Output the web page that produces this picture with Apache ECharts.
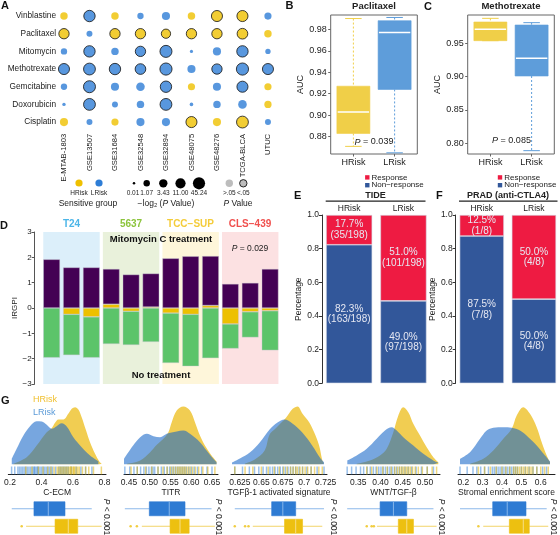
<!DOCTYPE html>
<html><head><meta charset="utf-8">
<script src="https://cdn.jsdelivr.net/npm/echarts@6/dist/echarts.min.js"></script>
<style>html,body{margin:0;padding:0;background:#fff}#c{width:560px;height:535px}</style>
</head><body><div id="c"></div>
<script>
// ================= DATA =================
// Panel A
const drugs = ['Vinblastine','Paclitaxel','Mitomycin','Methotrexate','Gemcitabine','Doxorubicin','Cisplatin'];
const cohorts = ['E-MTAB-1803','GSE13507','GSE31684','GSE32548','GSE32894','GSE48075','GSE48276','TCGA-BLCA','UTUC'];
const sensGroup = ['HLHLLHHHL','HLHHHHHHH','LLLLLLLLL','LLLLLLLLL','LLLLLHLLH','LLLLLLLLH','HLHLLHHHL'];
const negLog2P = [
  [2.0,25,2.0,1.0,3.0,2.0,20,20,1.7],
  [12,0.8,12,12,6,12,12,15,2.0],
  [1.0,25,2.0,12,40,0.05,3.0,25,0.5],
  [20,35,25,15,45,3.0,12,45,20],
  [1.0,40,3.0,4.0,25,1.7,3.0,20,1.7],
  [0.08,35,0.8,2.0,35,0.1,2.0,4.0,1.8],
  [3.0,0.8,1.7,3.0,3.0,20,3.0,35,0.8]
];
const sizeLegendVals = [0.01,1.07,3.43,11.00,45.24];
// Panel B / C  [min, q1, median, q3, max]
const paclitaxelH = [0.871,0.883,0.903,0.927,0.990];
const paclitaxelL = [0.865,0.924,0.977,0.988,0.991];
const methotrexateH = [0.954,0.954,0.971,0.982,0.9875];
const methotrexateL = [0.789,0.901,0.9275,0.9775,0.981];
const riskGroups = ['HRisk','LRisk'];
// Panel D
const cellLines = ['T24','5637','TCC−SUP','CLS−439'];
const irgpiYellow = [0,-0.25,-0.35,0.15,-0.13,0.04,-0.20,-0.25,0.10,-0.63,-0.15,-0.11];
const irgpiPurple = [1.92,1.60,1.60,1.39,1.32,1.32,1.96,2.04,1.95,0.95,0.99,1.54];
const irgpiGreen  = [-1.96,-1.61,-1.61,-1.42,-1.33,-1.34,-1.97,-2.05,-1.98,-0.97,-1.01,-1.56];
// Panel E / F
const tideResp = [35,101], tideNon = [163,97], tideTotal = [198,198];
const ctla4Resp = [1,4], ctla4Non = [7,4], ctla4Total = [8,8];
// Panel G
const sigNames = ['C-ECM','TITR','TGFβ-1 activated signature','WNT/TGF-β','Stromal enrichment score'];
const gTickVals = [[0.2,0.4,0.6,0.8],[0.45,0.50,0.55,0.60,0.65],[0.625,0.65,0.675,0.70,0.725],[0.35,0.40,0.45,0.50],[0.2,0.3,0.4,0.5,0.6]];
const gTickLabels = [['0.2','0.4','0.6','0.8'],['0.45','0.50','0.55','0.60','0.65'],['0.625','0.65','0.675','0.7','0.725'],['0.35','0.40','0.45','0.50'],['0.2','0.3','0.4','0.5','0.6']];
const gRange = [[0.189,0.8095],[0.438,0.6645],[0.6146,0.7265],[0.3246,0.5337],[0.1726,0.6739]];
const densL1 = [[0.211,5.7],[0.242,15.7],[0.285,29],[0.327,38.3],[0.369,43.3],[0.401,43],[0.433,39.7],[0.465,35.7],[0.496,38.3],[0.528,41.3],[0.560,38],[0.602,27.3],[0.655,17.3],[0.708,9],[0.761,3.3]];
const densH1 = [[0.221,0.7],[0.306,7.3],[0.369,19],[0.433,32.3],[0.465,36.3],[0.486,41.7],[0.507,45],[0.539,45],[0.570,50.7],[0.592,55.7],[0.613,57.3],[0.634,55],[0.655,47.3],[0.683,34],[0.708,22.3],[0.740,10.7],[0.767,3],[0.782,0.7]];
const densL2 = [[0.438,5.7],[0.460,19],[0.477,27.3],[0.493,30.7],[0.509,28.3],[0.525,27.3],[0.541,30.7],[0.565,33],[0.581,34],[0.597,30.7],[0.621,22.3],[0.637,14],[0.653,5.7],[0.661,2.3]];
const densH2 = [[0.445,0.7],[0.477,4],[0.501,12.3],[0.517,19.7],[0.533,25.7],[0.545,32.3],[0.553,42.3],[0.565,54],[0.581,58],[0.597,54],[0.609,42.3],[0.621,29],[0.633,19],[0.649,9],[0.661,3]];
const densL3 = [[0.6158,2],[0.625,6],[0.6365,12],[0.6481,22],[0.6596,35],[0.6688,42],[0.6769,45],[0.6861,41],[0.6977,32],[0.7092,19],[0.7192,5.7],[0.723,2.3]];
const densH3 = [[0.6308,1],[0.6423,5],[0.6538,14],[0.6596,30],[0.6665,36],[0.6789,47],[0.6865,55.7],[0.6922,58],[0.698,50.7],[0.7057,42.3],[0.7115,32.3],[0.7173,19],[0.7211,4],[0.723,0.7]];
const densL4 = [[0.3253,4],[0.3464,9],[0.3689,15.7],[0.3914,25.7],[0.41,34],[0.4251,37.3],[0.4364,34],[0.4512,27.3],[0.4737,19],[0.4962,10.7],[0.5187,4],[0.5299,1.7]];
const densH4 = [[0.3464,0.7],[0.3763,4],[0.3988,9],[0.4139,15.7],[0.4287,32.3],[0.44,49],[0.4512,57.3],[0.4624,52.3],[0.4737,40.7],[0.4887,29],[0.5038,17.3],[0.5187,7.3],[0.5299,2.3]];
const densL5 = [[0.183,5.7],[0.2346,12.3],[0.2863,25.7],[0.3209,34],[0.355,36.7],[0.4067,37.3],[0.4501,36.7],[0.493,34],[0.5359,27.3],[0.5793,19],[0.6222,9],[0.6481,3]];
const densH5 = [[0.2346,0.7],[0.3034,5.7],[0.355,14],[0.4067,25.7],[0.4501,35.7],[0.476,49],[0.5101,57.3],[0.5447,50.7],[0.5793,37.3],[0.6052,22.3],[0.631,9],[0.6481,2.3]];
const gBoxL = [[0.211,0.352,0.443,0.549,0.719],[0.440,0.499,0.547,0.585,0.649],[0.619,0.662,0.675,0.690,0.723],[0.325,0.399,0.429,0.459,0.519],[0.183,0.352,0.427,0.524,0.631]];
const gBoxH = [[0.302,0.486,0.570,0.630,0.782],[0.481,0.549,0.573,0.595,0.657],[0.640,0.677,0.690,0.698,0.721],[0.392,0.440,0.459,0.474,0.526],[0.303,0.438,0.510,0.541,0.639]];
const gOutH = [[0.274],[0.454,0.469],[0.619,0.631,0.635],[0.369,0.380,0.385],[0.278]];
const rugL1 = [0.21,0.23,0.25,0.26,0.27,0.28,0.29,0.30,0.31,0.32,0.33,0.34,0.35,0.355,0.36,0.37,0.375,0.38,0.39,0.40,0.41,0.42,0.43,0.44,0.45,0.46,0.47,0.49,0.51,0.52,0.53,0.54,0.55,0.56,0.57,0.59,0.62,0.65,0.68,0.72];
const rugH1 = [0.30,0.34,0.38,0.41,0.44,0.46,0.48,0.50,0.51,0.52,0.53,0.54,0.55,0.56,0.57,0.58,0.585,0.59,0.60,0.605,0.61,0.62,0.63,0.64,0.66,0.68,0.70,0.73,0.78];
const rugL2 = [0.440,0.452,0.462,0.470,0.478,0.486,0.492,0.498,0.504,0.508,0.512,0.520,0.528,0.535,0.542,0.548,0.553,0.558,0.563,0.568,0.573,0.578,0.583,0.588,0.594,0.600,0.607,0.615,0.625,0.638,0.650];
const rugH2 = [0.455,0.470,0.490,0.505,0.520,0.532,0.542,0.550,0.556,0.562,0.567,0.571,0.575,0.579,0.583,0.587,0.592,0.597,0.603,0.610,0.618,0.628,0.640,0.657];
const rugL3 = [0.619,0.628,0.636,0.642,0.647,0.652,0.656,0.660,0.663,0.666,0.669,0.672,0.675,0.678,0.681,0.684,0.687,0.690,0.694,0.698,0.703,0.708,0.715,0.723];
const rugH3 = [0.619,0.631,0.640,0.650,0.658,0.665,0.671,0.676,0.680,0.684,0.687,0.690,0.692,0.695,0.698,0.701,0.704,0.708,0.712,0.717,0.721];
const rugL4 = [0.325,0.335,0.345,0.355,0.362,0.370,0.377,0.384,0.390,0.396,0.401,0.406,0.411,0.416,0.421,0.426,0.431,0.436,0.442,0.448,0.455,0.462,0.470,0.480,0.492,0.505,0.519];
const rugH4 = [0.369,0.380,0.392,0.405,0.415,0.424,0.432,0.438,0.443,0.447,0.451,0.455,0.459,0.463,0.467,0.472,0.478,0.485,0.494,0.505,0.516,0.526];
const rugL5 = [0.183,0.22,0.25,0.27,0.29,0.31,0.33,0.35,0.36,0.37,0.38,0.39,0.40,0.41,0.42,0.43,0.44,0.45,0.46,0.47,0.48,0.50,0.52,0.54,0.56,0.58,0.61,0.63];
const rugH5 = [0.278,0.31,0.34,0.37,0.40,0.42,0.44,0.46,0.47,0.48,0.49,0.50,0.51,0.52,0.53,0.54,0.55,0.56,0.58,0.60,0.62,0.639];

// ================= BUILD =================
const FONT = '"Liberation Sans", Arial, Helvetica, sans-serif';
const YEL = '#EFC000', BLU = '#2E7DD6';
const grids = [], xAxes = [], yAxes = [], series = [], graphics = [];
function addGrid(grid, xa, ya){
  const gi = grids.length; grids.push(grid);
  xa.gridIndex = gi; ya.gridIndex = gi; xAxes.push(xa); yAxes.push(ya);
  return {g:gi, x:xAxes.length-1, y:yAxes.length-1};
}
function hid(o){ return Object.assign({axisLine:{show:false},axisTick:{show:false},axisLabel:{show:false},splitLine:{show:false}}, o); }
function txt(x,y,text,o){
  o = o||{};
  const st = {text:text, fill:o.color||'#222', fontSize:o.size||9, fontWeight:o.bold?'bold':'normal', fontFamily:FONT,
    textAlign:o.align||'center', textVerticalAlign:o.va||'middle', align:o.align||'center', verticalAlign:o.va||'middle'};
  if (o.rich) st.rich = o.rich;
  graphics.push({type:'text', x:x, y:y, rotation:o.rot||0, silent:true, z:100, style:st});
}
const itRich = (s)=>({i:{fontStyle:'italic', fontSize:s, fontFamily:FONT, fill:'#222'}});
function sizeFn(v){ return 2 + 5.2*Math.sqrt(Math.log(1+v)); }

// ---------- Panel A ----------
const A = addGrid({left:57.6, top:7.2, width:223.1, height:123.7},
  {type:'value', min:-0.25, max:8.5, axisLine:{show:false}, axisTick:{show:false}, splitLine:{show:false},
   axisLabel:{customValues:cohorts.map((c,i)=>i), formatter:v=>cohorts[Math.round(v)], rotate:90, margin:3, fontSize:7.6, color:'#222', fontFamily:FONT}},
  {type:'value', min:-0.5, max:6.5, inverse:true, axisLine:{show:false}, axisTick:{show:false}, splitLine:{show:false},
   axisLabel:{customValues:drugs.map((d,i)=>i), formatter:v=>drugs[Math.round(v)], margin:1.5, fontSize:8.3, color:'#222', fontFamily:FONT}});
const aData = [];
drugs.forEach((d,i)=>cohorts.forEach((c,j)=>{
  const v = negLog2P[i][j], g = sensGroup[i][j];
  aData.push({value:[j,i,v], itemStyle:{color:g==='H'?YEL:BLU, borderColor:'#111', borderWidth: v > -Math.log2(0.05) ? 1 : 0}});
}));
series.push({type:'scatter', xAxisIndex:A.x, yAxisIndex:A.y, data:aData, symbolSize:val=>sizeFn(val[2]), silent:true});
// legend A
graphics.push({type:'circle', shape:{cx:79, cy:183, r:3.6}, style:{fill:YEL}, silent:true});
graphics.push({type:'circle', shape:{cx:99, cy:183, r:3.6}, style:{fill:BLU}, silent:true});
txt(79,193,'HRisk',{size:6.5}); txt(99,193,'LRisk',{size:6.5});
txt(88,203.5,'Sensitive group',{size:8.5});
const legX = [134,146.7,163.3,180.5,199];
sizeLegendVals.forEach((v,k)=>{
  graphics.push({type:'circle', shape:{cx:legX[k], cy:183.3, r:sizeFn(v)/2}, style:{fill:'#000'}, silent:true});
  txt(legX[k]+ (k===0?-1:0), 193.3, v.toFixed(2), {size:6.5});
});
txt(166,203.5,'−log₂ ({i|P} Value)',{size:8.5, rich:itRich(8.5)});
graphics.push({type:'circle', shape:{cx:229.3, cy:183.3, r:3.7}, style:{fill:'#BDBDBD'}, silent:true});
graphics.push({type:'circle', shape:{cx:243.3, cy:183.3, r:3.7}, style:{fill:'#BDBDBD', stroke:'#111', lineWidth:0.9}, silent:true});
txt(229.3,193.3,'>.05',{size:6.5}); txt(243.3,193.3,'<.05',{size:6.5});
txt(238,203.5,'{i|P} Value',{size:8.5, rich:itRich(8.5)});

// ---------- Panels B & C ----------
function boxAxes(left, min, max, ticks, dec){
  return addGrid({left:left, top:15, width:86.6, height:139, show:true, borderColor:'#666', borderWidth:1},
   {type:'value', min:0.45, max:2.55, splitLine:{show:false}, axisLine:{show:false},
    axisTick:{show:true, customValues:[1,2], length:2.5, lineStyle:{color:'#666'}},
    axisLabel:{customValues:[1,2], formatter:v=>riskGroups[Math.round(v)-1], fontSize:9, color:'#222', margin:4, fontFamily:FONT}},
   {type:'value', min:min, max:max, splitLine:{show:false}, axisLine:{show:false},
    axisTick:{show:true, customValues:ticks, length:2.5, lineStyle:{color:'#666'}},
    axisLabel:{customValues:ticks, formatter:v=>v.toFixed(dec), fontSize:9, color:'#222', margin:4, fontFamily:FONT},
    name:'AUC', nameLocation:'middle', nameGap:23, nameTextStyle:{fontSize:9, color:'#222', fontFamily:FONT}});
}
function vbox(ax, rows, colors){
  series.push({type:'custom', xAxisIndex:ax.x, yAxisIndex:ax.y, silent:true,
    data: rows, encode:{x:0, y:[1,2,3,4,5]},
    renderItem:(params, api)=>{
      const x = api.value(0), c = colors[params.dataIndex];
      const bw = api.size([0.8,0])[0];
      const P = y=>api.coord([x,y]);
      const pMin=P(api.value(1)), pQ1=P(api.value(2)), pMed=P(api.value(3)), pQ3=P(api.value(4)), pMax=P(api.value(5));
      const cx = pMin[0], cw = bw/4;
      return {type:'group', children:[
        {type:'line', shape:{x1:cx,y1:pMax[1],x2:cx,y2:pQ3[1]}, style:{stroke:c, lineWidth:1, lineDash:[2,2]}},
        {type:'line', shape:{x1:cx,y1:pQ1[1],x2:cx,y2:pMin[1]}, style:{stroke:c, lineWidth:1, lineDash:[2,2]}},
        {type:'line', shape:{x1:cx-cw,y1:pMax[1],x2:cx+cw,y2:pMax[1]}, style:{stroke:c, lineWidth:1}},
        {type:'line', shape:{x1:cx-cw,y1:pMin[1],x2:cx+cw,y2:pMin[1]}, style:{stroke:c, lineWidth:1}},
        {type:'rect', shape:{x:cx-bw/2, y:pQ3[1], width:bw, height:pQ1[1]-pQ3[1]}, style:{fill:c, stroke:c, lineWidth:0.6}},
        {type:'line', shape:{x1:cx-bw/2+0.8,y1:pMed[1],x2:cx+bw/2-0.8,y2:pMed[1]}, style:{stroke:'#fff', lineWidth:1.5}}
      ]};
    }});
}
const B = boxAxes(330.7, 0.8639, 0.9933, [0.88,0.90,0.92,0.94,0.96,0.98], 2);
vbox(B, [[1].concat(paclitaxelH),[2].concat(paclitaxelL)], ['#F0CF48','#5E9DDA']);
const C = boxAxes(467.7, 0.784, 0.9925, [0.80,0.85,0.90,0.95], 2);
vbox(C, [[1].concat(methotrexateH),[2].concat(methotrexateL)], ['#F0CF48','#5E9DDA']);
txt(374,6.5,'Paclitaxel',{size:9.5,bold:true});
txt(511,6.5,'Methotrexate',{size:9.5,bold:true});
txt(374,142,'{i|P} = 0.039',{size:9, rich:itRich(9)});
txt(511.5,140.5,'{i|P} = 0.085',{size:9, rich:itRich(9)});

// ---------- Panel D ----------
const D = addGrid({left:41.7, top:232, width:238.3, height:152},
  hid({type:'category', data:irgpiPurple.map((v,i)=>'s'+i)}),
  {type:'value', min:-3, max:3, interval:1, offset:7, splitLine:{show:false},
   axisLine:{show:true, lineStyle:{color:'#555'}}, axisTick:{show:true, length:3, lineStyle:{color:'#555'}},
   axisLabel:{fontSize:8, color:'#222', margin:3, fontFamily:FONT, formatter:v=>v<0?'−'+Math.abs(v):String(v)},
   name:'IRGPI', nameLocation:'middle', nameGap:16, nameTextStyle:{fontSize:8, color:'#222', fontFamily:FONT}});
xAxes.push(hid({type:'category', gridIndex:D.g, data:cellLines, position:'top'}));
const Dx2 = xAxes.length-1;
const bgColors = ['#DCEFFA','#E9F1DB','#FEF6DA','#FCE1E2'];
series.push({type:'bar', xAxisIndex:Dx2, yAxisIndex:D.y, stack:'dbg', barCategoryGap:'5.3%', silent:true, z:1,
  data:bgColors.map(c=>({value:3, itemStyle:{color:c}}))});
series.push({type:'bar', xAxisIndex:Dx2, yAxisIndex:D.y, stack:'dbg', barCategoryGap:'5.3%', silent:true, z:1,
  data:bgColors.map(c=>({value:-3, itemStyle:{color:c}}))});
const dBarStyle = c=>({color:c, borderColor:'rgba(200,200,210,0.8)', borderWidth:0.5});
series.push({type:'bar', xAxisIndex:D.x, yAxisIndex:D.y, stack:'irgpi', barCategoryGap:'16%', z:3, silent:true, data:irgpiYellow, itemStyle:dBarStyle('#EDC000')});
series.push({type:'bar', xAxisIndex:D.x, yAxisIndex:D.y, stack:'irgpi', barCategoryGap:'16%', z:3, silent:true, data:irgpiPurple, itemStyle:dBarStyle('#440154')});
series.push({type:'bar', xAxisIndex:D.x, yAxisIndex:D.y, stack:'irgpi', barCategoryGap:'16%', z:3, silent:true, data:irgpiGreen, itemStyle:dBarStyle('#5CC46A')});
const cellColors = ['#4DB6E8','#8CC43C','#F4CC3A','#F0504E'];
[71.5,131,190.5,250].forEach((x,k)=>txt(x,224.3,cellLines[k],{size:10,bold:true,color:cellColors[k]}));
txt(161,239.7,'Mitomycin C treatment',{size:9.5,bold:true,color:'#111'});
txt(161,375,'No treatment',{size:9.5,bold:true,color:'#111'});
txt(250,248.3,'{i|P} = 0.029',{size:8.5, rich:itRich(8.5)});

// ---------- Panels E & F ----------
function pctLabel(n,t){ return (n/t*100).toFixed(1)+'%\n('+n+'/'+t+')'; }
function stackPanel(key, left, width, resp, non, tot){
  const ax = addGrid({left:left, top:215, width:width, height:168.3},
    {type:'category', data:riskGroups, position:'top', axisLine:{show:false}, axisTick:{show:false},
     axisLabel:{fontSize:8.5, color:'#222', margin:2, fontFamily:FONT}},
    {type:'value', min:0, max:1, interval:0.2, splitLine:{show:false},
     axisLine:{show:true, lineStyle:{color:'#333'}}, axisTick:{show:true, length:3, lineStyle:{color:'#333'}},
     axisLabel:{fontSize:8.5, color:'#222', margin:3, formatter:v=>v.toFixed(1), fontFamily:FONT},
     name:'Percentage', nameLocation:'middle', nameGap:16, nameTextStyle:{fontSize:8.5, color:'#222', fontFamily:FONT}});
  const lab = arr=>({show:true, position:'inside', color:'#E6E8F2', fontSize:10, lineHeight:10.5, fontFamily:FONT,
     formatter:p=>pctLabel(arr[p.dataIndex], tot[p.dataIndex])});
  series.push({type:'bar', xAxisIndex:ax.x, yAxisIndex:ax.y, stack:key, barCategoryGap:'15%', silent:true,
    data:non.map((n,i)=>n/tot[i]), itemStyle:{color:'#32579A', borderColor:'#D5DAE6', borderWidth:0.6}, label:lab(non)});
  series.push({type:'bar', xAxisIndex:ax.x, yAxisIndex:ax.y, stack:key, barCategoryGap:'15%', silent:true,
    data:resp.map((n,i)=>n/tot[i]), itemStyle:{color:'#EE1B42', borderColor:'#D5DAE6', borderWidth:0.6}, label:lab(resp)});
  return ax;
}
stackPanel('sE', 322, 108.6, tideResp, tideNon, tideTotal);
stackPanel('sF', 455.7, 109.6, ctla4Resp, ctla4Non, ctla4Total);
[[367.3,371.5],[500,504.2]].forEach(([sx,tx])=>{
  graphics.push({type:'rect', shape:{x:sx-2.2, y:175.2, width:4.4, height:4.4}, style:{fill:'#EE1B42'}, silent:true});
  graphics.push({type:'rect', shape:{x:sx-2.2, y:183, width:4.4, height:4.4}, style:{fill:'#32579A'}, silent:true});
  txt(tx,177.3,'Response',{size:8,align:'left'});
  txt(tx,185.2,'Non−response',{size:8,align:'left'});
});
txt(375.5,195.5,'TIDE',{size:9,bold:true});
graphics.push({type:'line', shape:{x1:325.7,y1:201.2,x2:425.5,y2:201.2}, style:{stroke:'#222', lineWidth:1.2}, silent:true});
txt(508,195.5,'PRAD (anti-CTLA4)',{size:9,bold:true});
graphics.push({type:'line', shape:{x1:459,y1:201.2,x2:557.5,y2:201.2}, style:{stroke:'#222', lineWidth:1.2}, silent:true});

// ---------- Panel G ----------
const gPx = [[8.3,106],[124,218],[231,327],[347,440],[458,555]];
const densL = [densL1,densL2,densL3,densL4,densL5], densH = [densH1,densH2,densH3,densH4,densH5];
const rugL = [rugL1,rugL2,rugL3,rugL4,rugL5], rugH = [rugH1,rugH2,rugH3,rugH4,rugH5];
const pX = [106,218.3,333,441.7,553.3];
function hbox(ax, rows, styles){
  series.push({type:'custom', xAxisIndex:ax.x, yAxisIndex:ax.y, silent:true, data:rows, encode:{x:[1,2,3,4,5], y:0},
    renderItem:(params, api)=>{
      const cat = api.value(0), s = styles[params.dataIndex];
      const bh = api.size([0,1])[1]*0.8;
      const P = v=>api.coord([v,cat]);
      const a=P(api.value(1)), q1=P(api.value(2)), m=P(api.value(3)), q3=P(api.value(4)), b=P(api.value(5));
      const cy = a[1];
      return {type:'group', children:[
        {type:'line', shape:{x1:a[0],y1:cy,x2:q1[0],y2:cy}, style:{stroke:s.wh, lineWidth:1}},
        {type:'line', shape:{x1:q3[0],y1:cy,x2:b[0],y2:cy}, style:{stroke:s.wh, lineWidth:1}},
        {type:'rect', shape:{x:q1[0], y:cy-bh/2, width:q3[0]-q1[0], height:bh}, style:{fill:s.fill, stroke:s.fill, lineWidth:0.6}},
        {type:'line', shape:{x1:m[0],y1:cy-bh/2,x2:m[0],y2:cy+bh/2}, style:{stroke:s.med, lineWidth:1}}
      ]};
    }});
}
for (let k=0;k<5;k++){
  const L = gPx[k][0], W = gPx[k][1]-gPx[k][0];
  const mn = gRange[k][0], mx = gRange[k][1];
  const dens = addGrid({left:L, top:404.5, width:W, height:60},
    hid({type:'value', min:mn, max:mx}), hid({type:'value', min:0, max:60}));
  series.push({type:'line', xAxisIndex:dens.x, yAxisIndex:dens.y, data:densH[k], smooth:0.35, showSymbol:false, silent:true,
    lineStyle:{width:0}, areaStyle:{color:'#F1CD52', opacity:1}, z:2});
  series.push({type:'line', xAxisIndex:dens.x, yAxisIndex:dens.y, data:densL[k], smooth:0.35, showSymbol:false, silent:true,
    lineStyle:{width:0}, areaStyle:{color:'#1565C8', opacity:0.58}, z:3});
  const rug = addGrid({left:L, top:466.5, width:W, height:8},
    {type:'value', min:mn, max:mx, splitLine:{show:false},
     axisLine:{show:true, lineStyle:{color:'#222', width:1}}, axisTick:{show:false},
     axisLabel:{customValues:gTickVals[k], fontSize:8.5, color:'#222', margin:3.5, fontFamily:FONT, hideOverlap:false,
       formatter:v=>{ let bi=0; gTickVals[k].forEach((t,i)=>{ if(Math.abs(t-v)<Math.abs(gTickVals[k][bi]-v)) bi=i; }); return gTickLabels[k][bi]; }},
     name:sigNames[k], nameLocation:'middle', nameGap:14, nameTextStyle:{fontSize:8.5, color:'#222', fontFamily:FONT, verticalAlign:'top'}},
    hid({type:'value', min:0, max:1}));
  series.push({type:'scatter', xAxisIndex:rug.x, yAxisIndex:rug.y, data:rugL[k].map(v=>[v,0.5]), symbol:'rect', symbolSize:[1.5,8], silent:true,
    itemStyle:{color:'rgba(46,125,214,0.6)'}});
  series.push({type:'scatter', xAxisIndex:rug.x, yAxisIndex:rug.y, data:rugH[k].map(v=>[v,0.5]), symbol:'rect', symbolSize:[1.5,8], silent:true,
    itemStyle:{color:'rgba(225,180,10,0.65)'}});
  const bx = addGrid({left:L, top:500, width:W, height:35},
    hid({type:'value', min:mn, max:mx}), hid({type:'category', data:['HRisk','LRisk']}));
  hbox(bx, [[1].concat(gBoxL[k]), [0].concat(gBoxH[k])],
    [{fill:'#2E7BD3', med:'#86B6EA', wh:'#8DB9EA'},{fill:'#EDC010', med:'#F7DE86', wh:'#F2D468'}]);
  series.push({type:'scatter', xAxisIndex:bx.x, yAxisIndex:bx.y, data:gOutH[k].map(v=>[v,0]), symbolSize:2.5, silent:true,
    itemStyle:{color:'#EDC010'}});
  txt(pX[k],517,'{i|P} < 0.001',{size:8.5, rot:-Math.PI/2, rich:itRich(8.5)});
}
txt(33,400,'HRisk',{size:9,color:'#F0C030',align:'left'});
txt(33,412.5,'LRisk',{size:9,color:'#5B9BD8',align:'left'});

// panel letters
[['A',1,0.5],['B',285.5,0.5],['C',424,1.5],['D',0,220.5],['E',294,190.5],['F',436,190.5],['G',1,395.5]].forEach(([t,x,y])=>
  txt(x,y,t,{size:11,bold:true,align:'left',va:'top',color:'#111'}));

const chart = echarts.init(document.getElementById('c'), null, {renderer:'canvas'});
chart.setOption({animation:false, backgroundColor:'#fff', textStyle:{fontFamily:FONT},
  grid:grids, xAxis:xAxes, yAxis:yAxes, series:series, graphic:{elements:graphics}});
</script></body></html>
